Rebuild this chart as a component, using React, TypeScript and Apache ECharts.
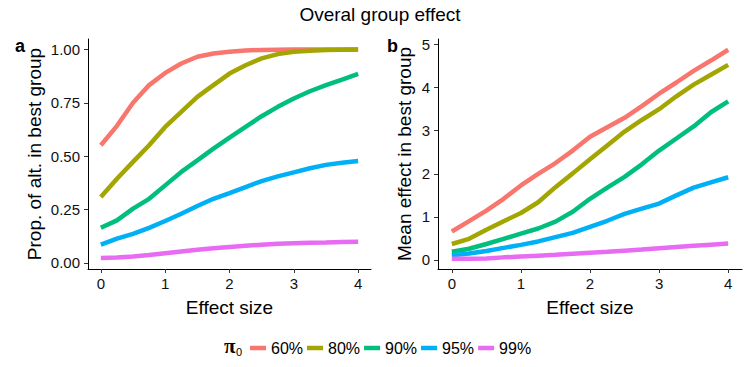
import React, { useEffect, useRef } from "react";
import * as echarts from "echarts";

const effectSize = [0, 0.25, 0.5, 0.75, 1, 1.25, 1.5, 1.75, 2, 2.25, 2.5, 2.75, 3, 3.25, 3.5, 3.75, 4];
const groups = ["60%", "80%", "90%", "95%", "99%"];
const colors = ["#F8766D", "#A3A500", "#00BF7D", "#00B0F6", "#E76BF3"];

// Panel a: proportion of alternatives in best group
const prop60 = [0.551, 0.642, 0.75, 0.833, 0.89, 0.934, 0.966, 0.981, 0.989, 0.995, 0.998, 0.999, 1, 1, 1, 1, 1];
const prop80 = [0.308, 0.394, 0.473, 0.551, 0.637, 0.707, 0.778, 0.833, 0.887, 0.926, 0.958, 0.978, 0.989, 0.994, 0.997, 0.999, 1];
const prop90 = [0.164, 0.199, 0.254, 0.3, 0.363, 0.426, 0.48, 0.535, 0.587, 0.637, 0.687, 0.731, 0.77, 0.804, 0.833, 0.859, 0.886];
const prop95 = [0.085, 0.113, 0.136, 0.164, 0.196, 0.23, 0.266, 0.3, 0.327, 0.355, 0.383, 0.405, 0.424, 0.443, 0.459, 0.469, 0.477];
const prop99 = [0.022, 0.025, 0.03, 0.037, 0.045, 0.053, 0.061, 0.068, 0.074, 0.08, 0.085, 0.089, 0.092, 0.094, 0.095, 0.097, 0.099];

// Panel b: mean effect in best group
const mean60 = [0.66, 0.9, 1.145, 1.42, 1.73, 2.0, 2.25, 2.54, 2.86, 3.08, 3.3, 3.57, 3.86, 4.12, 4.39, 4.63, 4.88];
const mean80 = [0.37, 0.49, 0.7, 0.9, 1.09, 1.34, 1.69, 2.01, 2.34, 2.66, 2.98, 3.25, 3.5, 3.8, 4.07, 4.3, 4.53];
const mean90 = [0.19, 0.26, 0.37, 0.49, 0.61, 0.73, 0.89, 1.12, 1.42, 1.68, 1.93, 2.22, 2.54, 2.82, 3.1, 3.43, 3.68];
const mean95 = [0.11, 0.15, 0.21, 0.28, 0.35, 0.43, 0.53, 0.63, 0.77, 0.91, 1.07, 1.19, 1.31, 1.5, 1.68, 1.8, 1.92];
const mean99 = [0.03, 0.03, 0.035, 0.06, 0.08, 0.1, 0.12, 0.145, 0.17, 0.19, 0.215, 0.24, 0.27, 0.3, 0.33, 0.355, 0.38];

const xTicks = [0, 1, 2, 3, 4];
const yTicksA = [0, 0.25, 0.5, 0.75, 1];
const yTicksB = [0, 1, 2, 3, 4, 5];

const propSeries = [prop60, prop80, prop90, prop95, prop99];
const meanSeries = [mean60, mean80, mean90, mean95, mean99];

const FONT = "'Liberation Sans', Arial, sans-serif";

function xAxisCfg(gridIndex: number) {
  return {
    type: "value",
    gridIndex,
    min: -0.2,
    max: 4.2,
    name: "Effect size",
    nameLocation: "middle",
    nameGap: 29,
    nameTextStyle: { fontSize: 19, color: "#000", fontFamily: FONT },
    splitLine: { show: false },
    axisLine: { show: true, onZero: false, lineStyle: { color: "#000", width: 1 } },
    axisTick: { show: true, length: 4, customValues: xTicks, lineStyle: { color: "#333", width: 1 } },
    axisLabel: { customValues: xTicks, margin: 7, fontSize: 15, color: "#111", fontFamily: FONT },
  };
}

function yAxisCfg(gridIndex: number, name: string, min: number, max: number, ticks: number[], gap: number, fmt: (v: number) => string) {
  return {
    type: "value",
    gridIndex,
    min,
    max,
    name,
    nameLocation: "middle",
    nameGap: gap,
    nameTextStyle: { fontSize: 19, color: "#000", fontFamily: FONT },
    splitLine: { show: false },
    axisLine: { show: true, onZero: false, lineStyle: { color: "#000", width: 1 } },
    axisTick: { show: true, length: 4, customValues: ticks, lineStyle: { color: "#333", width: 1 } },
    axisLabel: { customValues: ticks, margin: 8, fontSize: 15, color: "#111", fontFamily: FONT, formatter: fmt },
  };
}

export default function App() {
  const ref = useRef<HTMLDivElement>(null);
  useEffect(() => {
    if (!ref.current) return;
    const chart = echarts.init(ref.current, undefined, { renderer: "svg" });
    const series: any[] = [];
    groups.forEach((g, i) => {
      series.push({
        type: "line",
        name: g,
        xAxisIndex: 0,
        yAxisIndex: 0,
        data: effectSize.map((x, j) => [x, propSeries[i][j]]),
        showSymbol: false,
        symbol: "none",
        lineStyle: { width: 4.5, color: colors[i], cap: "butt" },
        itemStyle: { color: colors[i] },
        z: 2 + i,
      });
    });
    groups.forEach((g, i) => {
      series.push({
        type: "line",
        name: g,
        xAxisIndex: 1,
        yAxisIndex: 1,
        data: effectSize.map((x, j) => [x, meanSeries[i][j]]),
        showSymbol: false,
        symbol: "none",
        lineStyle: { width: 4.5, color: colors[i], cap: "butt" },
        itemStyle: { color: colors[i] },
        z: 2 + i,
      });
    });
    chart.setOption({
      animation: false,
      backgroundColor: "#fff",
      textStyle: { fontFamily: FONT },
      grid: [
        { left: 88, top: 39, width: 283, height: 230, containLabel: false },
        { left: 438, top: 39, width: 304, height: 230, containLabel: false },
      ],
      xAxis: [xAxisCfg(0), xAxisCfg(1)],
      yAxis: [
        yAxisCfg(0, "Prop. of alt. in best group", -0.029, 1.049, yTicksA, 44, (v: number) => v.toFixed(2)),
        yAxisCfg(1, "Mean effect in best group", -0.21, 5.13, yTicksB, 24, (v: number) => String(Math.round(v))),
      ],
      legend: {
        data: groups,
        left: 250,
        top: 340,
        padding: 0,
        icon: "rect",
        itemWidth: 16,
        itemHeight: 4.5,
        itemGap: 4,
        textStyle: { fontSize: 16, color: "#000", fontFamily: FONT },
        selectedMode: false,
      },
      graphic: [
        {
          type: "text",
          x: 380,
          y: 14,
          style: { text: "Overal group effect", fontSize: 19, fontFamily: FONT, fill: "#000", textAlign: "center", textVerticalAlign: "middle", align: "center", verticalAlign: "middle" },
        },
        {
          type: "text",
          x: 15,
          y: 46,
          style: { text: "a", fontSize: 18, fontWeight: "bold", fontFamily: FONT, fill: "#000", textVerticalAlign: "middle", verticalAlign: "middle" },
        },
        {
          type: "text",
          x: 387,
          y: 46,
          style: { text: "b", fontSize: 18, fontWeight: "bold", fontFamily: FONT, fill: "#000", textVerticalAlign: "middle", verticalAlign: "middle" },
        },
        {
          type: "text",
          x: 224,
          y: 346,
          style: { text: "π", fontSize: 21, fontWeight: "bold", fontFamily: "'Liberation Serif', serif", fill: "#000", textVerticalAlign: "middle", verticalAlign: "middle" },
        },
        {
          type: "text",
          x: 236,
          y: 352,
          style: { text: "0", fontSize: 11, fontFamily: FONT, fill: "#000", textVerticalAlign: "middle", verticalAlign: "middle" },
        },
      ],
      series,
    });
    return () => chart.dispose();
  }, []);
  return <div ref={ref} style={{ position: "absolute", left: 0, top: 0, width: 752, height: 367 }} />;
}
